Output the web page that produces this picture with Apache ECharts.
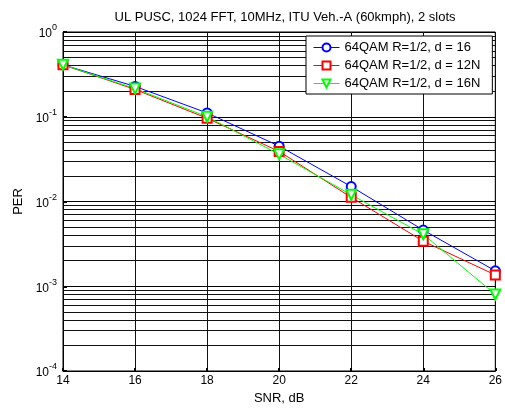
<!DOCTYPE html>
<html>
<head>
<meta charset="utf-8">
<script src="https://cdn.jsdelivr.net/npm/echarts@6/dist/echarts.min.js"></script>
<style>html,body{margin:0;padding:0;background:#fff;}#c{width:505px;height:410px;}</style>
</head>
<body>
<div id="c"></div>
<script>
var titleText = 'UL PUSC, 1024 FFT, 10MHz, ITU Veh.-A (60kmph), 2 slots';
var snr = [14, 16, 18, 20, 22, 24, 26];
var seriesNames = ['64QAM R=1/2, d = 16', '64QAM R=1/2, d = 12N', '64QAM R=1/2, d = 16N'];
var perD16  = [0.41, 0.228, 0.111, 0.045, 0.015, 0.0046, 0.00152];
var perD12N = [0.41, 0.21, 0.096, 0.039, 0.0112, 0.0034, 0.00136];
var perD16N = [0.41, 0.215, 0.100, 0.036, 0.012, 0.0041, 0.0008];
var decades = [1e-4, 1e-3, 1e-2, 1e-1, 1];
var minorMultipliers = [2, 3, 4, 5, 6, 7, 8, 9];

var minorValues = [];
for (var i = 0; i < decades.length - 1; i++) {
  for (var j = 0; j < minorMultipliers.length; j++) {
    minorValues.push(decades[i] * minorMultipliers[j]);
  }
}
var xMin = snr[0], xMax = snr[snr.length - 1];

var chart = echarts.init(document.getElementById('c'), null, { renderer: 'canvas' });
var font = 'Liberation Sans, Arial, Helvetica, sans-serif';
function mk(name, data, color, symbol, size, rot) {
  return {
    name: name, type: 'line', data: snr.map(function (x, k) { return [x, data[k]]; }),
    lineStyle: { color: color, width: 1 }, itemStyle: { color: color, borderColor: color, borderWidth: 0.9 },
    symbol: symbol, symbolSize: size, symbolRotate: rot || 0, showAllSymbol: true, z: 5
  };
}
chart.setOption({
  animation: false,
  backgroundColor: '#fff',
  title: {
    text: titleText, left: 280, top: 6, textAlign: 'center',
    textStyle: { fontFamily: font, fontSize: 13, fontWeight: 'normal', color: '#000' }
  },
  grid: { left: 63, right: 6, top: 32, bottom: 37, show: true, borderColor: '#000', borderWidth: 1, backgroundColor: 'transparent' },
  legend: {
    orient: 'vertical', left: 306, top: 36,
    data: seriesNames,
    backgroundColor: '#fff', borderColor: '#000', borderWidth: 1,
    padding: [5, 12, 4, 7], itemWidth: 26, itemHeight: 10, itemGap: 5,
    lineStyle: { width: 1 }, itemStyle: { borderWidth: 0.9 },
    textStyle: { fontFamily: font, fontSize: 13, color: '#000' }
  },
  xAxis: {
    type: 'value', min: 14, max: 26, interval: 2,
    name: 'SNR, dB', nameLocation: 'middle', nameGap: 21,
    nameTextStyle: { fontFamily: font, fontSize: 13, color: '#000' },
    axisLine: { show: true, onZero: false, lineStyle: { color: '#000' } },
    axisTick: { show: true, inside: true, length: 3, lineStyle: { color: '#000', width: 2 } },
    axisLabel: { fontFamily: font, fontSize: 12, color: '#000', margin: 4 },
    splitLine: { show: true, lineStyle: { color: '#111', width: 1 } }
  },
  yAxis: {
    type: 'log', logBase: 10, min: 1e-4, max: 1,
    name: 'PER', nameLocation: 'middle', nameGap: 36,
    nameTextStyle: { fontFamily: font, fontSize: 13, color: '#000' },
    axisLine: { show: true, lineStyle: { color: '#000' } },
    axisTick: { show: true, inside: true, length: 4, lineStyle: { color: '#000', width: 2 } },
    axisLabel: {
      fontFamily: font, color: '#000', margin: 6,
      formatter: function (v) {
        var e = Math.round(Math.log10(v));
        return '{b|10}{s|' + e + '}';
      },
      rich: {
        b: { fontFamily: font, fontSize: 12, color: '#000', padding: [4, 0, 0, 0] },
        s: { fontFamily: font, fontSize: 9, color: '#000', padding: [0, 0, 8, 0] }
      }
    },
    splitLine: { show: true, lineStyle: { color: '#000', width: 1 } }
  },
  series: [
    {
      type: 'lines', coordinateSystem: 'cartesian2d', silent: true, z: 1,
      lineStyle: { color: '#111', width: 1, opacity: 1 },
      data: minorValues.map(function (v) { return { coords: [[xMin, v], [xMax, v]] }; })
    },
    mk(seriesNames[0], perD16, '#0000ff', 'emptyCircle', 9),
    mk(seriesNames[1], perD12N, '#ff0000', 'emptyRect', 9),
    mk(seriesNames[2], perD16N, '#00ff00', 'emptyTriangle', 10, 180)
  ]
});
</script>
</body>
</html>
